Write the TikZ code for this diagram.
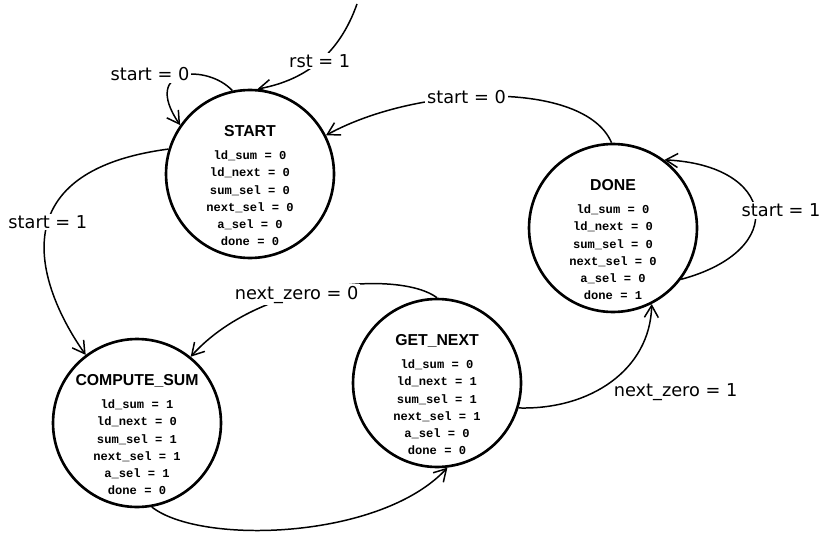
\documentclass[tikz,border=0pt]{standalone}
\usepackage{fontspec}
\usetikzlibrary{arrows.meta,positioning}
\newfontfamily\lblfont{DejaVu Sans}
\newfontfamily\ttlfont{Liberation Sans}
\newfontfamily\codefont{Liberation Mono}
\newcommand{\statename}[1]{{\ttlfont\bfseries\fontsize{9}{11}\selectfont #1}}
\tikzset{
  state/.style={circle, draw, line width=1.5pt, minimum size=3.36cm, inner sep=0pt},
  info/.style={align=center, inner sep=0pt, anchor=north, font=\codefont\bfseries\fontsize{6.9}{9.7}\selectfont},
  trans/.style={line width=0.85pt, -{Straight Barb[length=2.4mm,width=2.8mm]}},
  lbl/.style={font=\lblfont\fontsize{10.1}{12}\selectfont, inner sep=1pt},
  cut/.style={lbl, fill=white}
}

\begin{document}
\begin{tikzpicture}[x=0.02cm, y=-0.02cm]
  \useasboundingbox (0,0) rectangle (830,540);
  \node[state] (start) at (250,174) {};
  \node[state] (done) at (613,228) {};
  \node[state] (comp) at (137,423) {};
  \node[state] (next) at (437,383) {};
  \node[info] (start-info) at ([yshift=0.98cm]start.center) {\statename{START}\\[3.7pt]
    ld\_sum = 0\\ld\_next = 0\\sum\_sel = 0\\next\_sel = 0\\a\_sel = 0\\done = 0};
  \node[info] (done-info) at ([yshift=0.98cm]done.center) {\statename{DONE}\\[3.7pt]
    ld\_sum = 0\\ld\_next = 0\\sum\_sel = 0\\next\_sel = 0\\a\_sel = 0\\done = 1};
  \node[info] (comp-info) at ([yshift=0.98cm]comp.center) {\statename{COMPUTE\_SUM}\\[3.7pt]
    ld\_sum = 1\\ld\_next = 0\\sum\_sel = 1\\next\_sel = 1\\a\_sel = 1\\done = 0};
  \node[info] (next-info) at ([yshift=0.98cm]next.center) {\statename{GET\_NEXT}\\[3.7pt]
    ld\_sum = 0\\ld\_next = 1\\sum\_sel = 1\\next\_sel = 1\\a\_sel = 0\\done = 0};
  \coordinate (rst) at (357,4);
  \draw[trans] (rst) to[bend left=30] node[cut] {rst = 1} (start.85);
  \draw[trans] (start.102) .. controls (208,64) and (140,66) .. node[cut, pos=0.4, anchor=east] {start = 0} (start.145);
  \draw[trans] (start.163) .. controls (-5,172) and (40,290) .. node[cut, pos=0.44] {start = 1} (comp.127);
  \draw[trans] (done.91) .. controls (585,80) and (420,84) .. node[cut, pos=0.58] {start = 0} (start.27);
  \draw[trans] (done.-37) .. controls (790,250) and (775,165) .. node[cut, pos=0.5, xshift=0.52cm] {start = 1} (done.53);
  \draw[trans] (next.90) .. controls (400,270) and (260,280) .. node[cut, pos=0.6] {next\_zero = 0} (comp.51);
  \draw[trans] (next.-17) .. controls (590,410) and (650,370) .. node[lbl, pos=0.5, anchor=north west] {next\_zero = 1} (done.-63);
  \draw[trans] (comp.-80) .. controls (200,545) and (380,540) .. (next.-83);
\end{tikzpicture}
\end{document}
